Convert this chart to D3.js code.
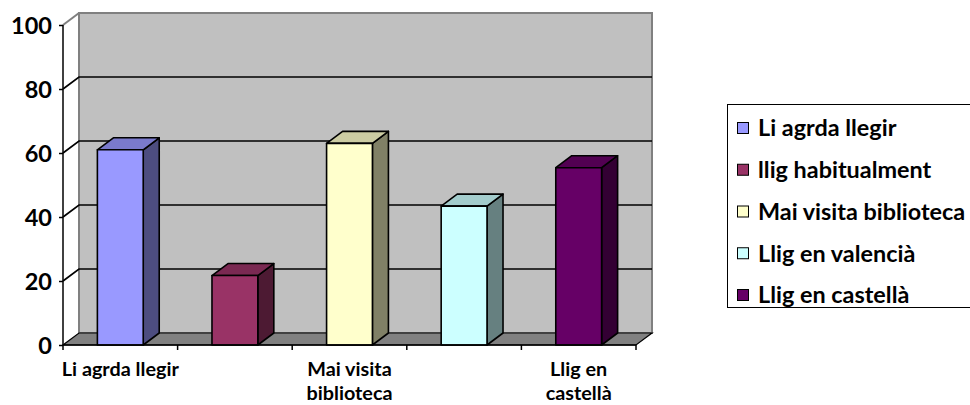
<!DOCTYPE html>
<html>
<head>
<meta charset="utf-8">
<script src="https://cdn.jsdelivr.net/npm/d3@7"></script>
<style>
  html, body { margin: 0; padding: 0; background: #fff; }
  svg { display: block; font-family: Lato, "Open Sans", sans-serif; font-weight: 700; }
</style>
</head>
<body>
<div id="chart"></div>
<script>
const categories = ["Li agrda llegir", "llig habitualment", "Mai visita biblioteca", "Llig en valencià", "Llig en castellà"]
const values = [61, 21.7, 63, 43.4, 55.4]
const colors = ["#9999ff", "#993366", "#ffffcc", "#ccffff", "#660066"]
// only every other category gets a label, wrapped like the original
const xTickLabels = [["Li agrda llegir"], [], ["Mai visita", "biblioteca"], [], ["Llig en", "castellà"]]
const yTicks = [0, 20, 40, 60, 80, 100]

const W = 970, H = 405
const front = { left: 63, right: 636, top: 25, bottom: 345 }
const depth = { dx: 16, dy: -12 }

const svg = d3.select("#chart").append("svg")
  .attr("width", W)
  .attr("height", H)

const y = d3.scaleLinear().domain([0, 100]).range([front.bottom, front.top])
const x = d3.scaleBand().domain(categories).range([front.left, front.right]).padding(0)
const barW = x.bandwidth() * 0.4

const shade = (c, k) => {
  const r = d3.rgb(c)
  return d3.rgb(r.r * k, r.g * k, r.b * k).toString()
}

// back wall
svg.append("rect")
  .attr("x", front.left + depth.dx)
  .attr("y", front.top + depth.dy)
  .attr("width", front.right - front.left)
  .attr("height", front.bottom - front.top)
  .attr("fill", "#c0c0c0")
  .attr("stroke", "#808080")
  .attr("stroke-width", 2)

// side-wall top edge
svg.append("line")
  .attr("x1", front.left).attr("y1", y(100))
  .attr("x2", front.left + depth.dx).attr("y2", y(100) + depth.dy)
  .attr("stroke", "#808080").attr("stroke-width", 2)

// gridlines: diagonal across side wall, then flat along back wall
const grid = svg.append("g").attr("stroke", "#000").attr("stroke-width", 1.7).attr("fill", "none")
yTicks.filter(v => v > 0 && v < 100).forEach(v => {
  grid.append("path")
    .attr("d", `M${front.left},${y(v)}L${front.left + depth.dx},${y(v) + depth.dy}L${front.right + depth.dx},${y(v) + depth.dy}`)
})

// floor
svg.append("path")
  .attr("d", `M${front.left},${y(0)}L${front.right},${y(0)}L${front.right + depth.dx},${y(0) + depth.dy}L${front.left + depth.dx},${y(0) + depth.dy}Z`)
  .attr("fill", "#808080")
  .attr("stroke", "#000")
  .attr("stroke-width", 1.2)

// bars
const bars = svg.append("g")
  .selectAll("g")
  .data(categories.map((c, i) => ({ c, v: values[i], color: colors[i] })))
  .join("g")
  .attr("stroke", "#000")
  .attr("stroke-width", 1.6)
  .attr("stroke-linejoin", "round")

bars.each(function (d) {
  const g = d3.select(this)
  const x0 = x(d.c) + (x.bandwidth() - barW) / 2
  const x1 = x0 + barW
  const yt = y(d.v), yb = y(0)
  g.append("path")
    .attr("d", `M${x1},${yb}L${x1 + depth.dx},${yb + depth.dy}L${x1 + depth.dx},${yt + depth.dy}L${x1},${yt}Z`)
    .attr("fill", shade(d.color, 0.5))
  g.append("path")
    .attr("d", `M${x0},${yt}L${x0 + depth.dx},${yt + depth.dy}L${x1 + depth.dx},${yt + depth.dy}L${x1},${yt}Z`)
    .attr("fill", shade(d.color, 0.8))
  g.append("rect")
    .attr("x", x0).attr("y", yt)
    .attr("width", barW).attr("height", yb - yt)
    .attr("fill", d.color)
})

// y axis
const yAxis = svg.append("g")
  .attr("transform", `translate(${front.left},0)`)
  .call(d3.axisLeft(y).tickValues(yTicks).tickSize(4).tickPadding(7))
yAxis.select(".domain").remove()
yAxis.selectAll(".tick line").attr("stroke", "#000").attr("stroke-width", 1.5)
yAxis.selectAll(".tick text")
  .attr("fill", "#000")
  .style("font-family", "Lato, sans-serif")
  .style("font-weight", 700)
  .style("font-size", "23.5px")
  .attr("dy", "0.36em")
svg.append("line")
  .attr("x1", front.left).attr("x2", front.left)
  .attr("y1", y(100)).attr("y2", y(0))
  .attr("stroke", "#000").attr("stroke-width", 1.5)

// x axis line, ticks at slot edges, right end diagonal
svg.append("line")
  .attr("x1", front.left).attr("x2", front.right)
  .attr("y1", y(0)).attr("y2", y(0))
  .attr("stroke", "#000").attr("stroke-width", 1.5)
const edges = categories.map(c => x(c)).concat([x(categories[categories.length - 1]) + x.bandwidth()])
svg.append("g").selectAll("line")
  .data(edges)
  .join("line")
  .attr("x1", d => d).attr("x2", d => d)
  .attr("y1", y(0)).attr("y2", y(0) + 5)
  .attr("stroke", "#000").attr("stroke-width", 1.5)

const xl = svg.append("g")
  .attr("text-anchor", "middle")
  .style("font-size", "19.8px")
  .attr("fill", "#000")
xTickLabels.forEach((lines, i) => {
  const cx = x(categories[i]) + x.bandwidth() / 2
  lines.forEach((t, j) => {
    xl.append("text")
      .attr("x", cx)
      .attr("y", 376 + j * 23.5)
      .text(t)
  })
})

// legend
const legend = svg.append("g")
svg.append("rect")
  .attr("x", 727.5).attr("y", 104.5)
  .attr("width", 300).attr("height", 203)
  .attr("fill", "#fff")
  .attr("stroke", "#000")
  .attr("stroke-width", 1)
const item = legend.selectAll("g")
  .data(categories)
  .join("g")
  .attr("transform", (d, i) => `translate(737,${128 + i * 41.75})`)
item.append("rect")
  .attr("x", 0.5).attr("y", -5.5)
  .attr("width", 11).attr("height", 11)
  .attr("fill", (d, i) => colors[i])
  .attr("stroke", "#000")
  .attr("stroke-width", 1)
item.append("text")
  .attr("x", 21)
  .attr("dy", "0.36em")
  .style("font-size", "23.4px")
  .attr("fill", "#000")
  .text(d => d)
legend.raise()
</script>
</body>
</html>
